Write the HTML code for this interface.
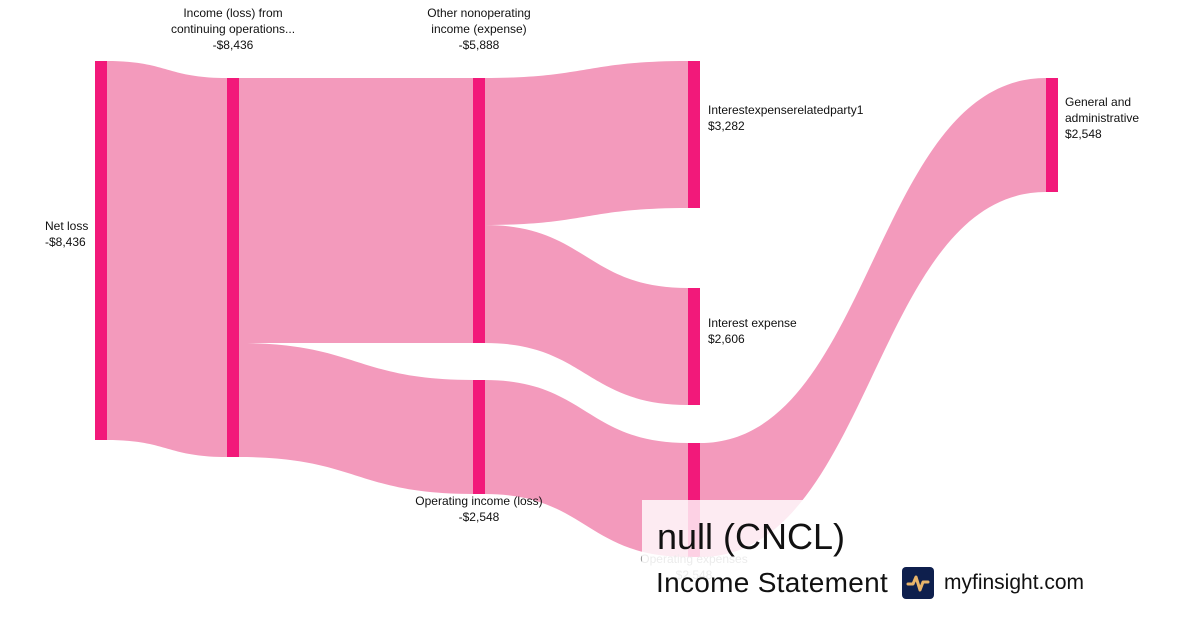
<!DOCTYPE html>
<html><head><meta charset="utf-8"><style>
body{margin:0;width:1200px;height:630px;background:#fff;overflow:hidden;font-family:"Liberation Sans",sans-serif;position:relative}
svg{position:absolute;left:0;top:0}
.l{position:absolute;font-size:12px;color:#111;line-height:16px}
.c{text-align:center}
</style></head><body>
<svg width="1200" height="630">
<g fill="#f39abc">
<path d="M107,61 C167,61 167,78 227,78 L227,457 C167,457 167,440 107,440Z"/>
<path d="M239,78 L473,78 L473,343 L239,343Z"/>
<path d="M239,343 C356,343 356,380 473,380 L473,494 C356,494 356,457 239,457Z"/>
<path d="M485,78 C586,78 586,61 688,61 L688,208 C586,208 586,225 485,225Z"/>
<path d="M485,225 C586,225 586,288 688,288 L688,405 C586,405 586,343 485,343Z"/>
<path d="M485,380 C586,380 586,443 688,443 L688,557 C586,557 586,494 485,494Z"/>
<path d="M700,443 C873,443 873,78 1046,78 L1046,192 C873,192 873,557 700,557Z"/>
</g>
<g fill="#f2197a">
<rect x="95" y="61" width="12" height="379"/>
<rect x="227" y="78" width="12" height="379"/>
<rect x="473" y="78" width="12" height="265"/>
<rect x="473" y="380" width="12" height="114"/>
<rect x="688" y="61" width="12" height="147"/>
<rect x="688" y="288" width="12" height="117"/>
<rect x="688" y="443" width="12" height="114"/>
<rect x="1046" y="78" width="12" height="114"/>
</g>
</svg>
<div class="l" style="left:45px;top:218px">Net loss<br>-$8,436</div>
<div class="l c" style="left:153px;top:5px;width:160px">Income (loss) from<br>continuing operations...<br>-$8,436</div>
<div class="l c" style="left:399px;top:5px;width:160px">Other nonoperating<br>income (expense)<br>-$5,888</div>
<div class="l c" style="left:399px;top:493px;width:160px">Operating income (loss)<br>-$2,548</div>
<div class="l" style="left:708px;top:102px">Interestexpenserelatedparty1<br>$3,282</div>
<div class="l" style="left:708px;top:315px">Interest expense<br>$2,606</div>
<div class="l c" style="left:614px;top:551px;width:160px;color:#999">Operating expenses<br>$2,548</div>
<div class="l" style="left:1065px;top:94px">General and<br>administrative<br>$2,548</div>
<div style="position:absolute;left:642px;top:500px;width:558px;height:130px;background:rgba(255,255,255,0.8)"></div>
<div style="position:absolute;left:657px;top:514px;font-size:36px;color:#111;line-height:46px">null (CNCL)</div>
<div style="position:absolute;left:656px;top:565px;font-size:28px;letter-spacing:0.3px;color:#111;line-height:36px">Income Statement</div>
<div style="position:absolute;left:902px;top:567px;width:32px;height:32px;background:#0e1f4d;border-radius:4px">
<svg width="32" height="32"><path d="M6,17 L11,17 L14,10 L18,23 L21,15 L26,15" stroke="#e8b46a" stroke-width="3" fill="none" stroke-linecap="round" stroke-linejoin="round"/></svg></div>
<div style="position:absolute;left:944px;top:569px;font-size:21px;color:#111;line-height:27px">myfinsight.com</div>
</body></html>
